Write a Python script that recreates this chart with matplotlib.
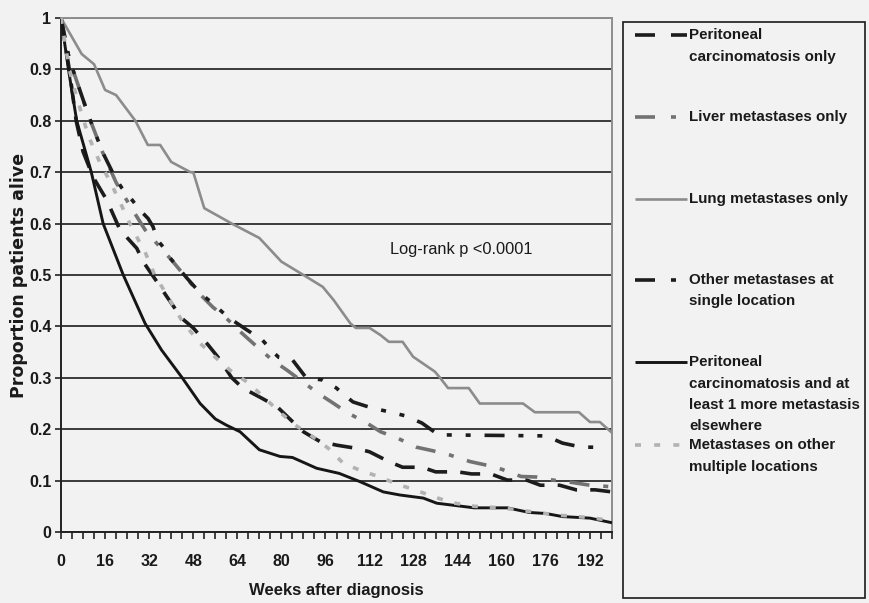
import matplotlib
matplotlib.use("Agg")
import matplotlib.pyplot as plt
from matplotlib.lines import Line2D
from matplotlib.patches import Rectangle

SANS = 'Liberation Sans'
plt.rcParams['lines.scale_dashes'] = False

# ---------------- data ----------------
peritoneal_w = [0, 3, 5.5, 8, 11.7, 16.6, 19, 21.4, 27.5, 29.8, 34.8, 38.4, 43.8, 48, 53.4, 57, 62, 66, 73,
                78.4, 84, 88, 94, 100, 107, 112, 119, 124, 131, 136, 144, 149, 156, 162, 169, 174, 181,
                187, 194, 200]
peritoneal_p = [1.0, 0.90, 0.80, 0.74, 0.69, 0.646, 0.617, 0.588, 0.552, 0.526, 0.487, 0.458, 0.416, 0.397,
                0.364, 0.34, 0.30, 0.28, 0.26, 0.244, 0.215, 0.195, 0.176, 0.169, 0.163, 0.156, 0.137,
                0.126, 0.126, 0.117, 0.117, 0.113, 0.113, 0.101, 0.101, 0.091, 0.091, 0.082, 0.082, 0.078]

liver_w = [0, 3, 10, 15, 20, 25.6, 30.5, 35, 40, 45.6, 50, 55, 60, 65, 70.4, 76.6, 82, 86.8, 93.3, 99, 104,
           111, 116, 122, 129, 135, 141, 148.5, 154.5, 160, 167, 172.6, 178.6, 186, 192, 200]
liver_p = [1.0, 0.92, 0.81, 0.74, 0.68, 0.63, 0.588, 0.56, 0.53, 0.494, 0.465, 0.438, 0.416, 0.39, 0.364,
           0.335, 0.315, 0.296, 0.27, 0.25, 0.232, 0.212, 0.195, 0.183, 0.165, 0.158, 0.15, 0.137, 0.13,
           0.122, 0.108, 0.107, 0.101, 0.096, 0.091, 0.088]

lung_w = [0, 7.5, 12, 16, 20, 27, 31.5, 36, 40, 47, 48, 52, 62, 72, 80, 88, 95, 99, 105, 107, 112, 116, 119,
          124, 127.8, 135.7, 137.6, 140.5, 148, 152, 167.7, 172, 188, 192, 195.6, 200]
lung_p = [1.0, 0.93, 0.91, 0.86, 0.85, 0.80, 0.753, 0.753, 0.72, 0.70, 0.70, 0.63, 0.60, 0.572, 0.526, 0.50,
          0.477, 0.451, 0.406, 0.397, 0.397, 0.383, 0.37, 0.37, 0.341, 0.312, 0.30, 0.28, 0.28, 0.25, 0.25,
          0.233, 0.233, 0.214, 0.214, 0.193]

other_w = [0, 3, 10, 15, 19.6, 22, 25.8, 28.7, 31.6, 33.4, 35, 37, 39.6, 45.7, 50.5, 55, 60.6, 67.5, 73, 77,
           79, 84, 89, 94.7, 100, 102, 106, 113, 119, 125, 131, 137, 176, 182, 189, 196]
other_p = [1.0, 0.92, 0.81, 0.74, 0.69, 0.67, 0.646, 0.626, 0.61, 0.594, 0.568, 0.555, 0.533, 0.494, 0.465,
           0.445, 0.418, 0.393, 0.374, 0.35, 0.34, 0.335, 0.30, 0.296, 0.28, 0.27, 0.253, 0.241, 0.234,
           0.226, 0.212, 0.189, 0.187, 0.173, 0.165, 0.165]

perimore_w = [0, 2.7, 5.7, 11, 15.3, 22.6, 30.5, 36.5, 44, 50.5, 56, 60, 65, 72, 79.5, 84, 92.8, 101, 108.5,
              117, 123, 131.5, 136.4, 150, 162, 170, 176, 182, 192, 200]
perimore_p = [1.0, 0.90, 0.80, 0.70, 0.60, 0.50, 0.406, 0.354, 0.30, 0.25, 0.22, 0.208, 0.195, 0.16, 0.147,
              0.145, 0.124, 0.114, 0.098, 0.078, 0.072, 0.066, 0.056, 0.047, 0.047, 0.038, 0.036, 0.030,
              0.027, 0.018]

multi_w = [0, 3, 6, 10, 14, 18, 22, 25, 28.7, 30.5, 34, 38, 44, 50.5, 56, 61.3, 68, 73.5, 79, 85, 91.5, 97,
           102.4, 109, 115.8, 122, 128.5, 135, 142, 150, 160, 170, 180, 192, 200]
multi_p = [1.0, 0.90, 0.84, 0.77, 0.72, 0.68, 0.635, 0.60, 0.562, 0.545, 0.50, 0.465, 0.41, 0.367, 0.34,
           0.315, 0.29, 0.263, 0.235, 0.208, 0.185, 0.163, 0.134, 0.119, 0.107, 0.093, 0.082, 0.069, 0.057,
           0.05, 0.047, 0.04, 0.033, 0.028, 0.022]

labels = [
    ["Peritoneal", "carcinomatosis only"],
    ["Liver metastases only"],
    ["Lung metastases only"],
    ["Other metastases at", "single location"],
    ["Peritoneal", "carcinomatosis and at", "least 1 more metastasis", "elsewhere"],
    ["Metastases on other", "multiple locations"],
]
yticks = [0, 0.1, 0.2, 0.3, 0.4, 0.5, 0.6, 0.7, 0.8, 0.9, 1.0]
ytick_labels = ["0", "0.1", "0.2", "0.3", "0.4", "0.5", "0.6", "0.7", "0.8", "0.9", "1"]
xticks = list(range(0, 201, 4))
xtick_labels = [str(t) if t % 16 == 0 and t <= 192 else "" for t in xticks]

# ---------------- styles ----------------
BG = '#f2f2f2'
styles = [
    dict(color='#1c1c1c', lw=2.6, ls=(0, (14.4, 9.5))),
    dict(color='#727272', lw=2.6, ls=(0, (14.4, 10, 3.6, 10))),
    dict(color='#8c8c8c', lw=1.9, ls='-'),
    dict(color='#1c1c1c', lw=2.6, ls=(0, (14.4, 10, 3.6, 10, 3.6, 10))),
    dict(color='#161616', lw=2.1, ls='-'),
    dict(color='#b2b2b2', lw=2.6, ls=(0, (4.3, 8.6))),
]
legend_styles = [
    dict(color='#1c1c1c', lw=2.6, ls=(0, (14.4, 11.5))),
    dict(color='#727272', lw=2.6, ls=(0, (14.4, 11.5, 3.6, 11.5))),
    dict(color='#8c8c8c', lw=1.9, ls='-'),
    dict(color='#1c1c1c', lw=2.6, ls=(0, (14.4, 11.5, 3.6, 11.5))),
    dict(color='#161616', lw=2.1, ls='-'),
    dict(color='#b2b2b2', lw=2.6, ls=(0, (4.3, 9.5))),
]
series = [(peritoneal_w, peritoneal_p), (liver_w, liver_p), (lung_w, lung_p),
          (other_w, other_p), (perimore_w, perimore_p), (multi_w, multi_p)]

fig = plt.figure(figsize=(8.69, 6.03), dpi=100, facecolor=BG)
ax = fig.add_axes([61 / 869, 1 - 532 / 603, 551 / 869, 514 / 603])
ax.set_facecolor(BG)

for (w, p), st in zip(series, styles):
    ax.plot(w, p, color=st['color'], lw=st['lw'], linestyle=st['ls'], solid_capstyle='butt',
            dash_capstyle='butt', zorder=3)

ax.set_xlim(0, 200)
ax.set_ylim(0, 1)
ax.set_xticks(xticks)
ax.set_xticklabels(xtick_labels, fontfamily=SANS, fontweight='bold', fontsize=11.5, color='#1a1a1a')
ax.set_yticks(yticks)
ax.set_yticklabels(ytick_labels, fontfamily=SANS, fontweight='bold', fontsize=11.5, color='#1a1a1a')
ax.tick_params(axis='x', direction='out', length=5, width=1.2, color='#222222', pad=11)
ax.tick_params(axis='y', direction='out', length=4, width=1.2, color='#222222', pad=3)

ax.set_axisbelow(True)
ax.yaxis.grid(True, color='#3a3a3a', lw=1.4)
ax.xaxis.grid(False)
for side in ['left', 'bottom']:
    ax.spines[side].set_color('#222222')
    ax.spines[side].set_linewidth(1.4)
for side in ['top', 'right']:
    ax.spines[side].set_color('#8e8e8e')
    ax.spines[side].set_linewidth(1.4)

ax.set_xlabel("Weeks after diagnosis", fontfamily=SANS, fontweight='bold', fontsize=12, color='#1a1a1a')
ax.xaxis.set_label_coords(0.5, (532 - 590) / 514)
ax.xaxis.label.set_va('center')
ax.set_ylabel("Proportion patients alive", fontfamily='DejaVu Sans', fontweight='bold', fontsize=12.5,
              color='#1a1a1a')
ax.yaxis.set_label_coords((19 - 61) / 551, (532 - 275) / 514)
ax.yaxis.label.set_va('center')

ax.text(119.4, 0.549, "Log-rank p <0.0001", fontfamily=SANS, fontsize=11.8, color='#1a1a1a',
        ha='left', va='center')

# ---------------- legend (manual box) ----------------
W, H = 869, 603
fig.add_artist(Rectangle((623 / W, 1 - 598 / H), (865 - 623) / W, (598 - 22) / H, transform=fig.transFigure,
                         facecolor=BG, edgecolor='#1a1a1a', lw=1.2))
first_y = [35, 117, 199, 280, 362, 445]
line_gap = 21.5
for lab, st, y0 in zip(labels, legend_styles, first_y):
    fig.add_artist(Line2D([635 / W, 687 / W], [1 - y0 / H, 1 - y0 / H], transform=fig.transFigure,
                          color=st['color'], lw=st['lw'], linestyle=st['ls'], solid_capstyle='butt',
                          dash_capstyle='butt'))
    for i, line in enumerate(lab):
        fig.text(689 / W, 1 - (y0 + i * line_gap) / H, line, fontfamily=SANS, fontweight='bold',
                 fontsize=10.9, color='#1a1a1a', ha='left', va='center')

fig.savefig("out.png", dpi=100, facecolor=BG)
